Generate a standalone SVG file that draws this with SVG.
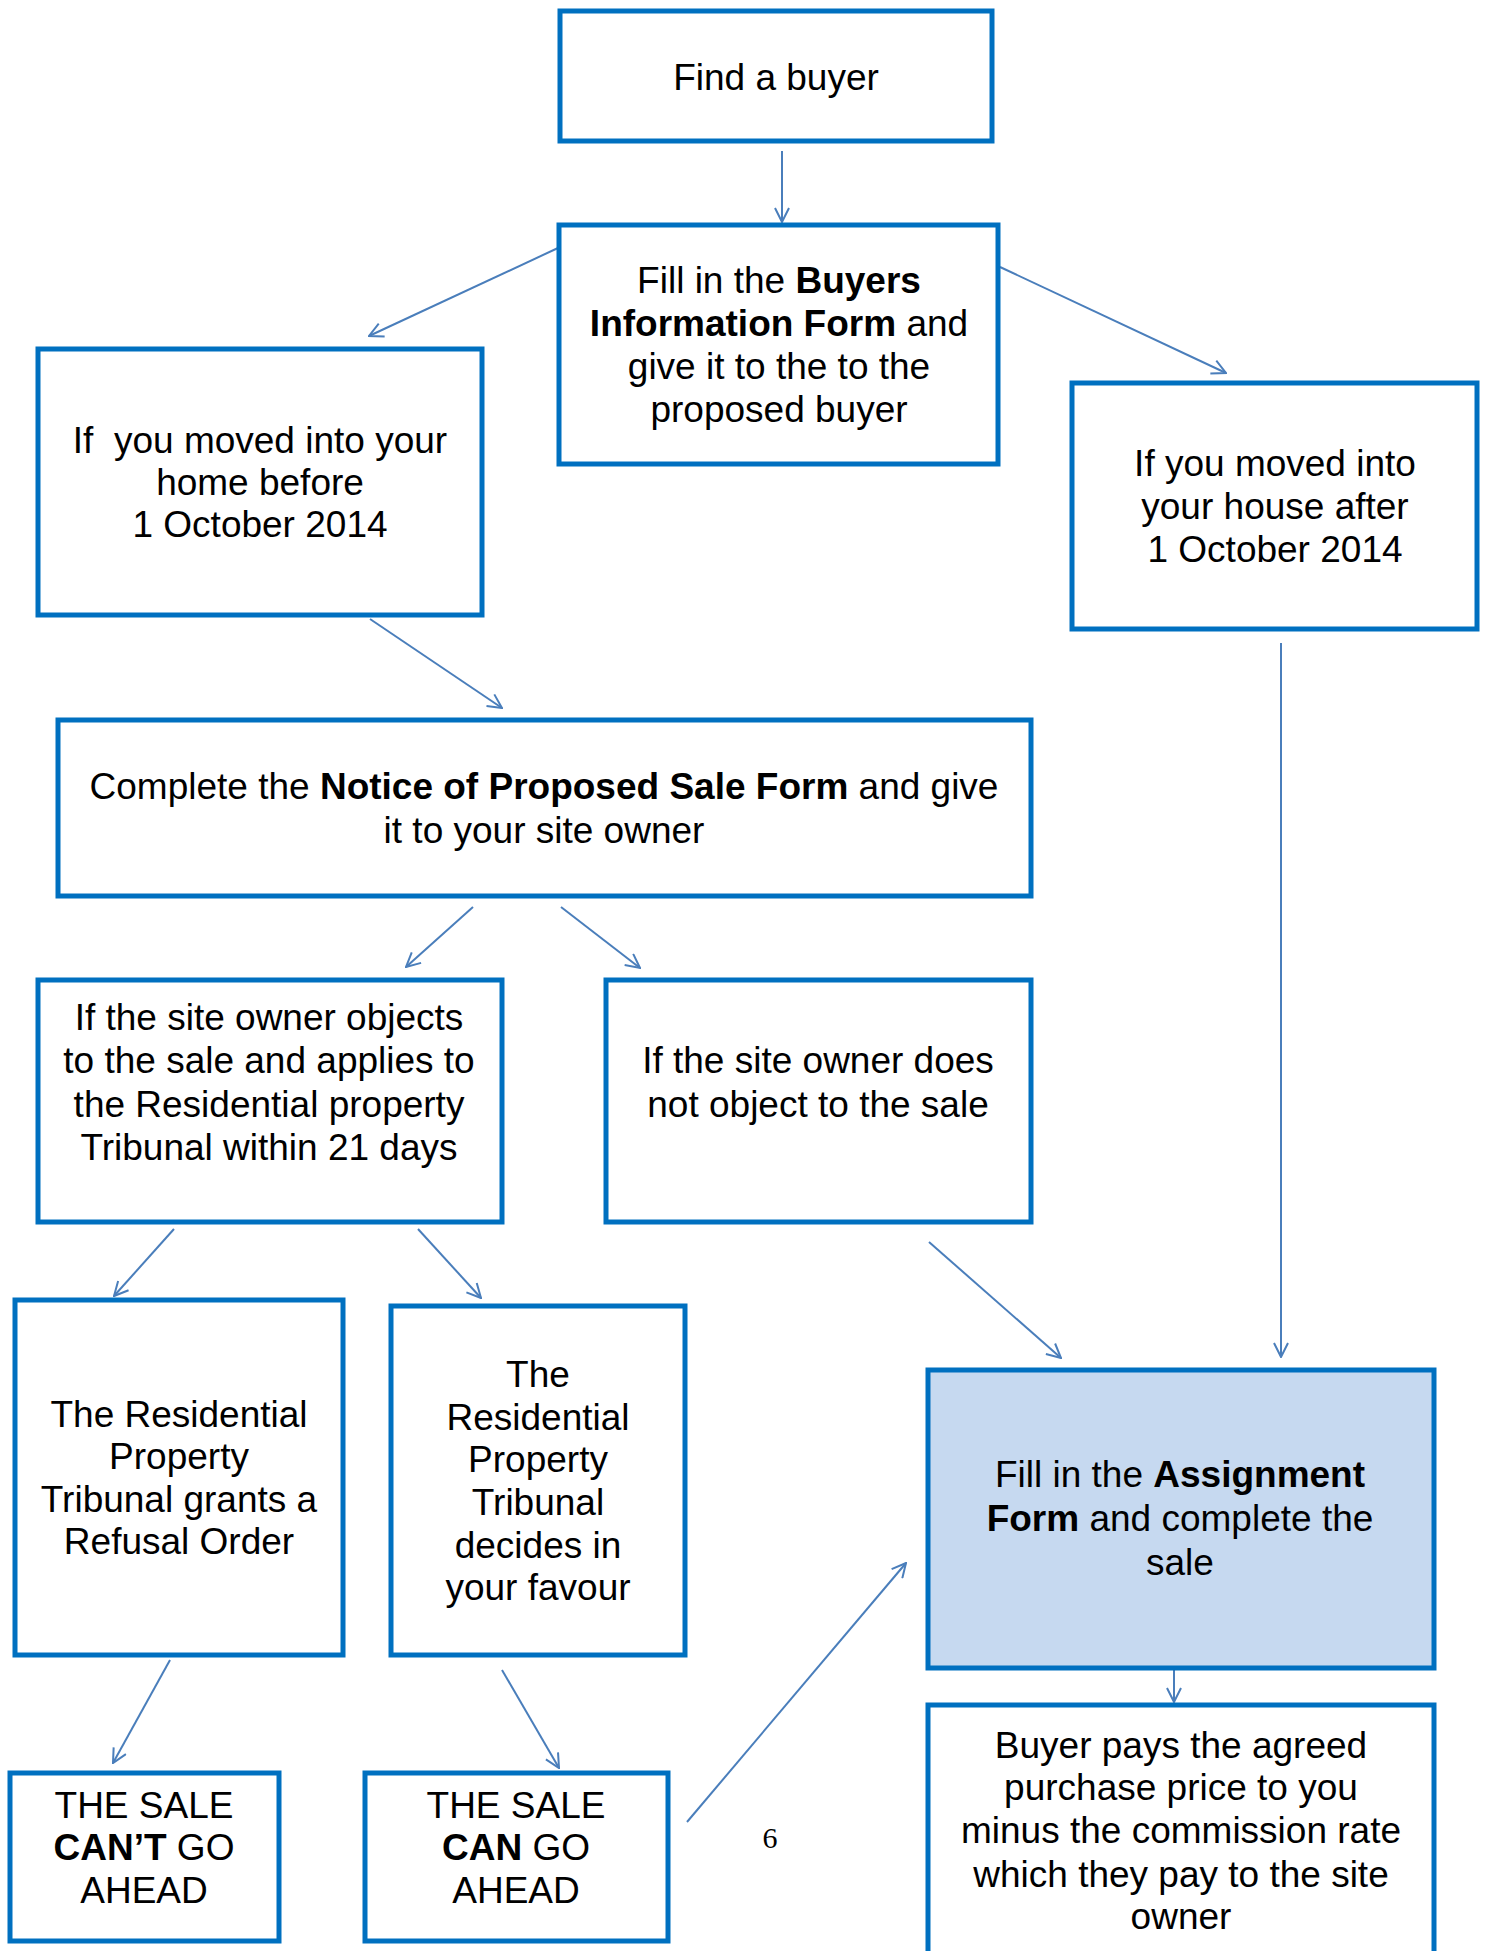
<svg xmlns="http://www.w3.org/2000/svg" width="1486" height="1951" viewBox="0 0 1486 1951">
<style>
.box{fill:#FFFFFF;stroke:#0070C0;stroke-width:5}
.hl{fill:#C6D9F0}
.t{font-family:"Liberation Sans",Arial,sans-serif;font-size:37px;fill:#000;text-anchor:middle}
.b{font-weight:bold}
.c{stroke:#4A7EBB;stroke-width:2;fill:none;marker-end:url(#ah)}
</style>
<defs>
<marker id="ah" viewBox="0 0 16 16" refX="15" refY="8" markerWidth="16" markerHeight="16" markerUnits="userSpaceOnUse" orient="auto">
<path d="M1,1 L15,8 L1,15" fill="none" stroke="#4A7EBB" stroke-width="2"/>
</marker>
</defs>
<rect width="1486" height="1951" fill="#FFFFFF"/>
<g id="connectors">
<line class="c" x1="782" y1="151" x2="782" y2="222"/>
<line class="c" x1="558" y1="248" x2="369" y2="336"/>
<line class="c" x1="1000" y1="267" x2="1226" y2="373"/>
<line class="c" x1="370" y1="619" x2="502" y2="708"/>
<line class="c" x1="1281" y1="643" x2="1281" y2="1357"/>
<line class="c" x1="473" y1="907" x2="406" y2="967"/>
<line class="c" x1="561" y1="907" x2="640" y2="968"/>
<line class="c" x1="174" y1="1229" x2="114" y2="1296"/>
<line class="c" x1="418" y1="1229" x2="481" y2="1298"/>
<line class="c" x1="170" y1="1660" x2="113" y2="1763"/>
<line class="c" x1="502" y1="1670" x2="559" y2="1768"/>
<line class="c" x1="687" y1="1822" x2="906" y2="1563"/>
<line class="c" x1="929" y1="1242" x2="1061" y2="1358"/>
<line class="c" x1="1174" y1="1670" x2="1174" y2="1702"/>
</g>
<g id="find-buyer">
<rect class="box" x="560" y="11" width="432" height="130"/>
<text class="t" x="776" y="90">Find a buyer</text>
</g>
<g id="buyers-info">
<rect class="box" x="559" y="225" width="439" height="239"/>
<text class="t" x="779" y="293">Fill in the <tspan class="b">Buyers</tspan></text>
<text class="t" x="779" y="336"><tspan class="b">Information Form</tspan> and</text>
<text class="t" x="779" y="379">give it to the to the</text>
<text class="t" x="779" y="422">proposed buyer</text>
</g>
<g id="moved-before">
<rect class="box" x="38" y="349" width="444" height="266"/>
<text class="t" x="260" y="453" xml:space="preserve">If  you moved into your</text>
<text class="t" x="260" y="495">home before</text>
<text class="t" x="260" y="537">1 October 2014</text>
</g>
<g id="moved-after">
<rect class="box" x="1072" y="383" width="405" height="246"/>
<text class="t" x="1275" y="476">If you moved into</text>
<text class="t" x="1275" y="519">your house after</text>
<text class="t" x="1275" y="562">1 October 2014</text>
</g>
<g id="notice">
<rect class="box" x="58" y="720" width="973" height="176"/>
<text class="t" x="544" y="799">Complete the <tspan class="b">Notice of Proposed Sale Form</tspan> and give</text>
<text class="t" x="544" y="843">it to your site owner</text>
</g>
<g id="objects">
<rect class="box" x="38" y="980" width="464" height="242"/>
<text class="t" x="269" y="1030">If the site owner objects</text>
<text class="t" x="269" y="1073">to the sale and applies to</text>
<text class="t" x="269" y="1117">the Residential property</text>
<text class="t" x="269" y="1160">Tribunal within 21 days</text>
</g>
<g id="not-object">
<rect class="box" x="606" y="980" width="425" height="242"/>
<text class="t" x="818" y="1073">If the site owner does</text>
<text class="t" x="818" y="1117">not object to the sale</text>
</g>
<g id="refusal">
<rect class="box" x="15" y="1300" width="328" height="355"/>
<text class="t" x="179" y="1427">The Residential</text>
<text class="t" x="179" y="1469">Property</text>
<text class="t" x="179" y="1512">Tribunal grants a</text>
<text class="t" x="179" y="1554">Refusal Order</text>
</g>
<g id="favour">
<rect class="box" x="391" y="1306" width="294" height="349"/>
<text class="t" x="538" y="1387">The</text>
<text class="t" x="538" y="1430">Residential</text>
<text class="t" x="538" y="1472">Property</text>
<text class="t" x="538" y="1515">Tribunal</text>
<text class="t" x="538" y="1558">decides in</text>
<text class="t" x="538" y="1600">your favour</text>
</g>
<g id="cant-go">
<rect class="box" x="10" y="1773" width="269" height="168"/>
<text class="t" x="144" y="1818">THE SALE</text>
<text class="t" x="144" y="1860"><tspan class="b">CAN’T</tspan> GO</text>
<text class="t" x="144" y="1903">AHEAD</text>
</g>
<g id="can-go">
<rect class="box" x="365" y="1773" width="303" height="168"/>
<text class="t" x="516" y="1818">THE SALE</text>
<text class="t" x="516" y="1860"><tspan class="b">CAN</tspan> GO</text>
<text class="t" x="516" y="1903">AHEAD</text>
</g>
<g id="assignment">
<rect class="box hl" x="928" y="1370" width="506" height="298"/>
<text class="t" x="1180" y="1487">Fill in the <tspan class="b">Assignment</tspan></text>
<text class="t" x="1180" y="1531"><tspan class="b">Form</tspan> and complete the</text>
<text class="t" x="1180" y="1575">sale</text>
</g>
<g id="buyer-pays">
<rect class="box" x="928" y="1705" width="506" height="270"/>
<text class="t" x="1181" y="1758">Buyer pays the agreed</text>
<text class="t" x="1181" y="1800">purchase price to you</text>
<text class="t" x="1181" y="1843">minus the commission rate</text>
<text class="t" x="1181" y="1887">which they pay to the site</text>
<text class="t" x="1181" y="1929">owner</text>
</g>
<text x="770" y="1848" font-family="'Liberation Serif',serif" font-size="30" text-anchor="middle" fill="#000">6</text>
</svg>
